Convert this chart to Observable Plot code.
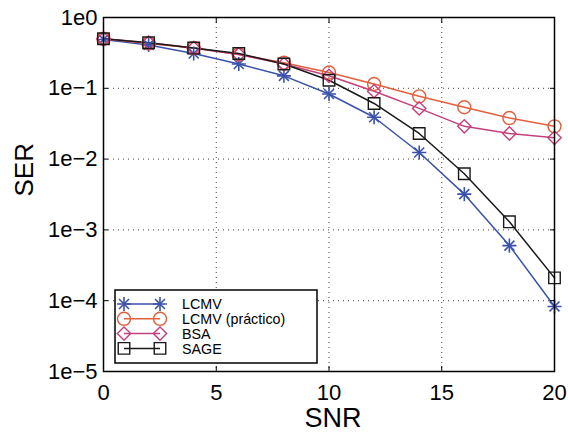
<!DOCTYPE html>
<html>
<head>
<meta charset="utf-8">
<script src="https://cdn.jsdelivr.net/npm/d3@7"></script>
<script src="https://cdn.jsdelivr.net/npm/@observablehq/plot@0.6"></script>
<style>
  html, body { margin: 0; padding: 0; background: #fff; }
  #wrap { position: relative; width: 568px; height: 432px; font-family: "Liberation Sans", Arial, Helvetica, sans-serif; }
  #legend { position: absolute; left: 114px; top: 289px; }
</style>
</head>
<body>
<div id="wrap"></div>
<script>
// ---- data ----
const snr = [0, 2, 4, 6, 8, 10, 12, 14, 16, 18, 20];
const lcmv = [0.49, 0.41, 0.31, 0.22, 0.15, 0.083, 0.039, 0.0124, 0.0032, 0.0006, 0.000083];
const lcmvPractico = [0.5, 0.43, 0.37, 0.30, 0.23, 0.167, 0.115, 0.077, 0.054, 0.038, 0.029];
const bsa = [0.5, 0.44, 0.37, 0.30, 0.22, 0.15, 0.091, 0.052, 0.029, 0.023, 0.020];
const sage = [0.5, 0.44, 0.37, 0.31, 0.22, 0.13, 0.061, 0.023, 0.0062, 0.0013, 0.00021];
const seriesNames = ["LCMV", "LCMV (práctico)", "BSA", "SAGE"];
const seriesColors = ["#3a52aa", "#e2603e", "#c4407c", "#1a1a1a"];
const xTicks = [0, 5, 10, 15, 20];
const xGrid = [5, 10, 15];
const yTicks = [1, 1e-1, 1e-2, 1e-3, 1e-4, 1e-5];
const yTickLabels = ["1e0", "1e−1", "1e−2", "1e−3", "1e−4", "1e−5"];
const xLabel = "SNR";
const yLabel = "SER";

// ---- table ----
const seriesValues = [lcmv, lcmvPractico, bsa, sage];
const rows = [];
seriesNames.forEach((name, i) => {
  snr.forEach((x, j) => rows.push({series: name, snr: x, ser: seriesValues[i][j]}));
});
const bySeries = name => rows.filter(d => d.series === name);
const colorOf = name => seriesColors[seriesNames.indexOf(name)];

const lineW = 1.5;
const marks = [
  Plot.gridY(yTicks.slice(1, -1), {stroke: "#000", strokeOpacity: 0.75, strokeDasharray: "1,4"}),
  Plot.gridX(xGrid, {stroke: "#000", strokeOpacity: 0.75, strokeDasharray: "1,4"})
];
seriesNames.forEach(name => {
  marks.push(Plot.line(bySeries(name), {x: "snr", y: "ser", stroke: colorOf(name), strokeWidth: lineW}));
});
// markers
marks.push(Plot.dot(bySeries("LCMV"), {x: "snr", y: "ser", symbol: "plus", r: 4.6, stroke: colorOf("LCMV"), strokeWidth: 1.6}));
marks.push(Plot.dot(bySeries("LCMV"), {x: "snr", y: "ser", symbol: "times", r: 4.6, stroke: colorOf("LCMV"), strokeWidth: 1.6}));
marks.push(Plot.dot(bySeries("LCMV (práctico)"), {x: "snr", y: "ser", symbol: "circle", r: 6.5, fill: "none", stroke: colorOf("LCMV (práctico)"), strokeWidth: 1.4}));
marks.push(Plot.dot(bySeries("BSA"), {x: "snr", y: "ser", symbol: "diamond2", r: 6, fill: "none", stroke: colorOf("BSA"), strokeWidth: 1.4}));
marks.push(Plot.dot(bySeries("SAGE"), {x: "snr", y: "ser", symbol: "square", r: 6.5, fill: "none", stroke: colorOf("SAGE"), strokeWidth: 1.4}));

// axes: labels
marks.push(Plot.axisY(yTicks, {anchor: "left", tickSize: 0, tickPadding: 6, fontSize: 22, tickFormat: (d, i) => yTickLabels[yTicks.indexOf(d)], label: null}));
marks.push(Plot.axisX(xTicks, {anchor: "bottom", tickSize: 0, tickPadding: 13, fontSize: 22, label: null}));
// inward ticks on all four sides
marks.push(Plot.axisY(yTicks, {anchor: "left", tickSize: 5, dx: 5, fill: "none", label: null}));
marks.push(Plot.axisY(yTicks, {anchor: "right", tickSize: 5, dx: -5, fill: "none", label: null}));
marks.push(Plot.axisX(xTicks, {anchor: "bottom", tickSize: 5, dy: -5, fill: "none", label: null}));
marks.push(Plot.axisX(xTicks, {anchor: "top", tickSize: 5, dy: 5, fill: "none", label: null}));
marks.push(Plot.frame({stroke: "#000", strokeWidth: 1.5}));
// axis titles
marks.push(Plot.text([xLabel], {frameAnchor: "bottom", text: d => d, dy: 47, dx: 4, fontSize: 27, lineAnchor: "middle"}));
marks.push(Plot.text([yLabel], {frameAnchor: "left", text: d => d, dx: -79, dy: 2, rotate: -90, fontSize: 26, lineAnchor: "middle"}));

const chart = Plot.plot({
  width: 568,
  height: 432,
  marginLeft: 103,
  marginRight: 14,
  marginTop: 17,
  marginBottom: 61,
  style: {fontFamily: "'Liberation Sans', Arial, Helvetica, sans-serif", background: "#fff", color: "#000"},
  x: {domain: [0, 20], axis: null},
  y: {type: "log", domain: [1e-5, 1], axis: null},
  marks
});
document.getElementById("wrap").appendChild(chart);

// ---- legend ----
const lw = 203, lh = 74;
const leg = d3.select("#wrap").append("svg")
  .attr("id", "legend").attr("width", lw + 2).attr("height", lh + 2)
  .style("font-family", "'Liberation Sans', Arial, Helvetica, sans-serif");
leg.append("rect").attr("x", 1).attr("y", 1).attr("width", lw - 1).attr("height", lh - 1)
  .attr("fill", "#fff").attr("stroke", "#000").attr("stroke-width", 1.5);
const legSymbols = [
  [[d3.symbolPlus, 4.6], [d3.symbolTimes, 4.6]],
  [[d3.symbolCircle, 6.5]],
  [[d3.symbolDiamond2, 6]],
  [[d3.symbolSquare, 6.5]]
];
seriesNames.forEach((name, i) => {
  const y = 15 + i * 14.8;
  const c = colorOf(name);
  const g = leg.append("g");
  g.append("line").attr("x1", 10).attr("x2", 46).attr("y1", y).attr("y2", y).attr("stroke", c).attr("stroke-width", lineW);
  [10, 46].forEach(x => {
    legSymbols[i].forEach(([sym, r]) => {
      g.append("path").attr("d", d3.symbol(sym, r * r * Math.PI)())
        .attr("transform", `translate(${x},${y})`)
        .attr("fill", "none").attr("stroke", c).attr("stroke-width", i === 0 ? 1.6 : 1.4);
    });
  });
  g.append("text").attr("x", 68).attr("y", y).attr("dy", "0.36em").attr("font-size", 14.3).attr("fill", "#000").text(name);
});
</script>
</body>
</html>
